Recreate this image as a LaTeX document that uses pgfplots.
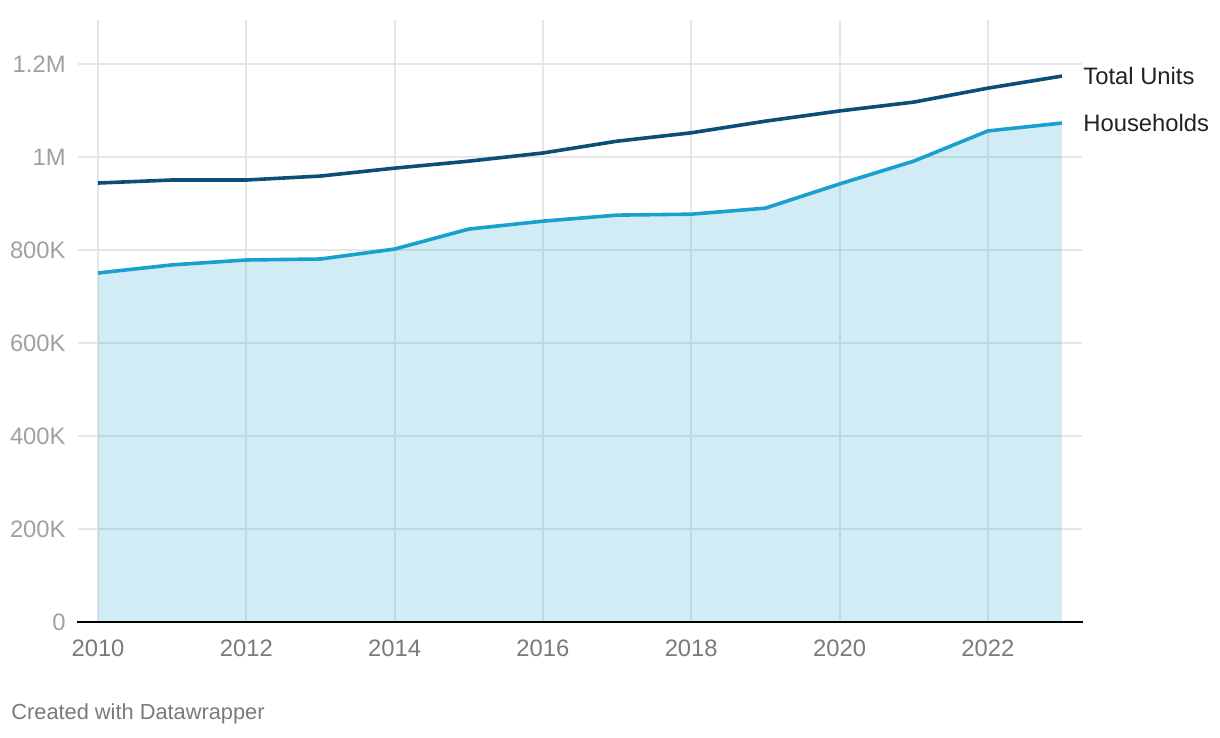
\documentclass[border=0pt]{standalone}
\usepackage{fontspec}
\setmainfont{Liberation Sans}
\usepackage{pgfplots}
\pgfplotsset{compat=1.18}
\definecolor{navy}{HTML}{0B4E76}
\definecolor{hh}{HTML}{18A1CD}
\definecolor{gridc}{HTML}{E6E6E6}
\definecolor{ylab}{HTML}{A0A0A0}
\definecolor{xlab}{HTML}{7A7A7A}
\definecolor{txt}{HTML}{222222}
\begin{document}
\begin{tikzpicture}
\path[use as bounding box] (-39pt,-58pt) rectangle (571pt,311pt);
\begin{axis}[
  at={(0,0)}, anchor=south west,
  scale only axis, width=502pt, height=301pt,
  xmin=2009.73, xmax=2023.27, ymin=0, ymax=1294.6,
  axis line style={draw=none},
  ytick={0,200,400,600,800,1000,1200},
  yticklabels={0,200K,400K,600K,800K,1M,1.2M},
  xtick={2010,2012,2014,2016,2018,2020,2022},
  xticklabels={2010,2012,2014,2016,2018,2020,2022},
  major tick length=0pt,
  tick style={draw=none},
  grid=major,
  grid style={gridc, line width=1pt},
  font=\fontsize{11.9pt}{14pt}\selectfont,
  yticklabel style={anchor=east, inner sep=0pt, xshift=-6pt, text=ylab},
  xticklabel style={anchor=center, inner sep=0pt, yshift=-13pt, text=xlab},
  /pgf/number format/assume math mode=true,
  clip=false,
]
\addplot[draw=none, fill=hh, fill opacity=0.2] coordinates {
 (2010,750.5) (2011,768) (2012,778.5) (2013,780.6) (2014,802)
 (2015,845) (2016,862) (2017,875) (2018,877) (2019,890)
 (2020,942) (2021,991) (2022,1056) (2023,1073)
} \closedcycle;
\addplot[hh, line width=1.8pt] coordinates {
 (2010,750.5) (2011,768) (2012,778.5) (2013,780.6) (2014,802)
 (2015,845) (2016,862) (2017,875) (2018,877) (2019,890)
 (2020,942) (2021,991) (2022,1056) (2023,1073)
};
\addplot[navy, line width=1.8pt] coordinates {
 (2010,944) (2011,950.5) (2012,950.5) (2013,959) (2014,976)
 (2015,991) (2016,1008.6) (2017,1034) (2018,1052) (2019,1077)
 (2020,1099) (2021,1118) (2022,1148) (2023,1174)
};
\draw[black, line width=1.1pt] ([xshift=-0.5pt]rel axis cs:0,0) -- ([xshift=0.5pt]rel axis cs:1,0);
\node[anchor=west, inner sep=0pt, text=txt] at ([xshift=10.5pt]axis cs:2023,1174) {Total Units};
\node[anchor=west, inner sep=0pt, text=txt] at ([xshift=10.5pt]axis cs:2023,1073) {Households};
\end{axis}
\node[anchor=west, inner sep=0pt, text=xlab, font=\fontsize{10.9pt}{12pt}\selectfont] at (-33.5pt,-46pt) {Created with Datawrapper};
\end{tikzpicture}
\end{document}
